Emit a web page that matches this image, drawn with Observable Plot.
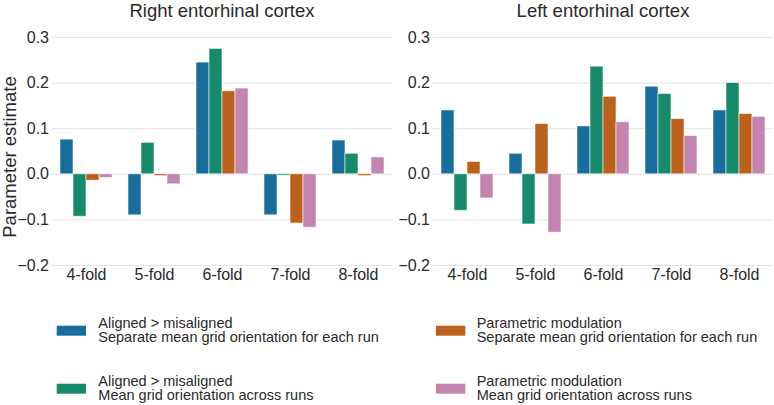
<!DOCTYPE html>
<html>
<head>
<meta charset="utf-8">
<script src="https://cdn.jsdelivr.net/npm/d3@7"></script>
<script src="https://cdn.jsdelivr.net/npm/@observablehq/plot@0.6"></script>
<style>
  html, body { margin: 0; padding: 0; background: #fff; }
  #wrap { position: relative; width: 774px; height: 405px; background: #fff; overflow: hidden; }
  #wrap svg { position: absolute; top: 0; }
</style>
</head>
<body>
<div id="wrap"></div>
<script>
// ---- data ----
const folds = ["4-fold", "5-fold", "6-fold", "7-fold", "8-fold"];
const seriesKeys = ["alignedSeparate", "alignedMean", "parametricSeparate", "parametricMean"];
const seriesLine1 = ["Aligned > misaligned", "Aligned > misaligned", "Parametric modulation", "Parametric modulation"];
const seriesLine2 = ["Separate mean grid orientation for each run", "Mean grid orientation across runs",
                     "Separate mean grid orientation for each run", "Mean grid orientation across runs"];
const seriesColors = ["#176d9c", "#168a6a", "#bb611c", "#c384b0"];

const panelTitles = ["Right entorhinal cortex", "Left entorhinal cortex"];
const yTicks = [-0.2, -0.1, 0.0, 0.1, 0.2, 0.3];
const yLabel = "Parameter estimate";

// Right entorhinal cortex
const rightAlignedSeparate    = [0.076, -0.090, 0.245, -0.090, 0.074];
const rightAlignedMean        = [-0.093, 0.069, 0.275, -0.003, 0.045];
const rightParametricSeparate = [-0.014, -0.004, 0.182, -0.108, -0.004];
const rightParametricMean     = [-0.008, -0.022, 0.188, -0.117, 0.037];

// Left entorhinal cortex
const leftAlignedSeparate    = [0.140, 0.045, 0.105, 0.192, 0.140];
const leftAlignedMean        = [-0.080, -0.110, 0.236, 0.176, 0.200];
const leftParametricSeparate = [0.027, 0.110, 0.170, 0.121, 0.132];
const leftParametricMean     = [-0.053, -0.128, 0.114, 0.084, 0.126];

function toTable(arrays) {
  const rows = [];
  folds.forEach((f, i) => {
    seriesKeys.forEach((s, j) => rows.push({fold: f, series: s, value: arrays[j][i]}));
  });
  return rows;
}
const panelData = [
  toTable([rightAlignedSeparate, rightAlignedMean, rightParametricSeparate, rightParametricMean]),
  toTable([leftAlignedSeparate, leftAlignedMean, leftParametricSeparate, leftParametricMean])
];

const FONT = "'Liberation Sans', Arial, Helvetica, sans-serif";
const TEXT = "#2a2a2a";
const wrap = document.getElementById("wrap");

const layouts = [
  {left: 0,   width: 392, marginLeft: 52, marginRight: 0},
  {left: 380, width: 394, marginLeft: 53, marginRight: 1}
];

layouts.forEach((L, p) => {
  const chart = Plot.plot({
    width: L.width,
    height: 290,
    marginLeft: L.marginLeft,
    marginRight: L.marginRight,
    marginTop: 37,
    marginBottom: 25,
    style: {fontFamily: FONT, fontSize: "16px", color: TEXT, background: "transparent", overflow: "visible"},
    fx: {domain: folds, padding: 0, label: null, axis: null},
    x: {domain: seriesKeys, paddingInner: 0, paddingOuter: 0.5, axis: null, label: null},
    y: {domain: [-0.2, 0.3], label: null, axis: null},
    color: {domain: seriesKeys, range: seriesColors},
    marks: [
      Plot.ruleY(yTicks, {stroke: "#e3e3e3", strokeWidth: 1}),
      Plot.barY(panelData[p], {fx: "fold", x: "series", y: "value", fill: "series",
                               stroke: "#ffffff", strokeWidth: 0.8, strokeOpacity: 0.7}),
      Plot.axisY(yTicks, {tickSize: 0, tickPadding: 3.5, tickFormat: d3.format(".1f"),
                          fontSize: 16, fill: TEXT, label: null}),
      Plot.axisFx({anchor: "bottom", tickSize: 0, tickPadding: 3.5, fontSize: 16, fill: TEXT, label: null})
    ]
  });
  chart.style.left = L.left + "px";
  wrap.appendChild(chart);
});

// overlay: titles, y label, legend
const W = 774, H = 405;
const svg = d3.select(wrap).append("svg")
  .attr("width", W).attr("height", H)
  .style("left", "0px")
  .attr("font-family", FONT)
  .attr("fill", TEXT);

const titleX = [222, 603];
svg.selectAll("text.title").data(panelTitles).join("text")
  .attr("class", "title")
  .attr("x", (d, i) => titleX[i])
  .attr("y", 16.5)
  .attr("text-anchor", "middle")
  .attr("font-size", 18.5)
  .text(d => d);

svg.append("text")
  .attr("transform", "translate(9.5,157) rotate(-90)")
  .attr("text-anchor", "middle")
  .attr("dy", "0.35em")
  .attr("font-size", 18.5)
  .text(yLabel);

const legendPos = [
  {sx: 56.7, tx: 98.3, y: 0},
  {sx: 56.7, tx: 98.3, y: 58},
  {sx: 436,  tx: 476.7, y: 0},
  {sx: 436,  tx: 476.7, y: 58}
];
const lg = svg.selectAll("g.lg").data(seriesKeys).join("g").attr("class", "lg")
  .attr("transform", (d, i) => `translate(0,${legendPos[i].y})`);
lg.append("rect")
  .attr("x", (d, i) => legendPos[i].sx)
  .attr("y", 325.7)
  .attr("width", 29.3)
  .attr("height", 10)
  .attr("fill", (d, i) => seriesColors[i]);
lg.append("text")
  .attr("x", (d, i) => legendPos[i].tx)
  .attr("y", 327.7)
  .attr("font-size", 14.5)
  .text((d, i) => seriesLine1[i]);
lg.append("text")
  .attr("x", (d, i) => legendPos[i].tx)
  .attr("y", 342.3)
  .attr("font-size", 14.5)
  .text((d, i) => seriesLine2[i]);
</script>
</body>
</html>
